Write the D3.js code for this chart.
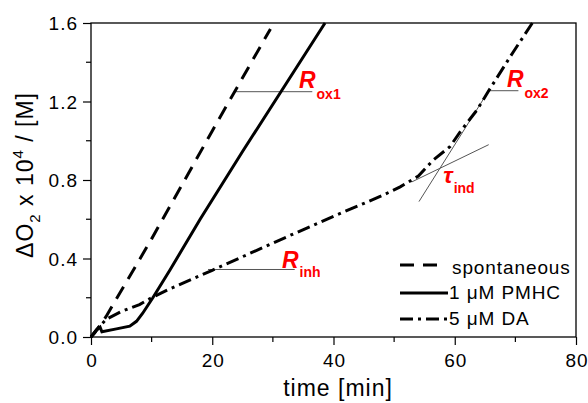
<!DOCTYPE html>
<html><head><meta charset="utf-8">
<script src="https://cdn.jsdelivr.net/npm/d3@7"></script>
<style>body{margin:0;background:#fff}svg{display:block}text{font-family:"Liberation Sans",Arial,sans-serif}</style>
</head><body>
<svg id="c" width="588" height="403"></svg>
<script>
const xTicks=[0,20,40,60,80];
const yTicks=[0.0,0.4,0.8,1.2,1.6];
const spontaneous=[[0,0],[0.6,0.02],[1.5,0.06],[2.5,0.105],[10,0.5],[20,1.05],[29.6,1.57]];
const pmhc=[[0,0],[0.9,0.036],[1.5,0.05],[1.8,0.027],[4,0.04],[6.4,0.055],[7.5,0.08],[8.5,0.12],[10.2,0.2],[13,0.34],[18,0.6],[25.1,0.95],[38.6,1.6]];
const da=[[0,0],[1,0.04],[2.5,0.09],[5,0.13],[8,0.165],[10,0.2],[13,0.245],[20,0.34],[33,0.52],[40,0.615],[48,0.72],[51,0.765],[54,0.82],[56.4,0.9],[59.2,0.97],[61,1.05],[63.7,1.158],[65.5,1.25],[69.6,1.45],[72.8,1.6]];
const series=[{name:"spontaneous",data:spontaneous,dash:"14,9"},{name:"1 \u03bcM PMHC",data:pmhc,dash:null},{name:"5 \u03bcM DA",data:da,dash:"13,5,3,5"}];
const tangents=[
 {x1:23.8,y1:1.25,x2:36.5,y2:1.25},
 {x1:65.5,y1:1.255,x2:70.5,y2:1.255},
 {x1:19.3,y1:0.344,x2:33.6,y2:0.344},
 {x1:52.9,y1:0.79,x2:65.6,y2:0.98},
 {x1:54.1,y1:0.69,x2:65.5,y2:1.25}];
const labels=[{t:"R",s:"ox1",x:34.3,y:1.269,dy:11},{t:"R",s:"ox2",x:68.6,y:1.274,dy:11},{t:"R",s:"inh",x:31.5,y:0.352,dy:9},{t:"\u03c4",s:"ind",x:58.1,y:0.785,dy:10}];

const svg=d3.select("#c");
const L=91,R=576,T=23,B=337;
const x=d3.scaleLinear().domain([0,80]).range([L,R]);
const y=d3.scaleLinear().domain([0,1.6]).range([B,T]);
const g=svg.append("g");
const xMinor=d3.range(10,80,20), yMinor=[0.2,0.6,1.0,1.4];
g.selectAll(".xm").data(xMinor).join("line").attr("x1",d=>x(d)).attr("x2",d=>x(d)).attr("y1",B).attr("y2",B+5).attr("stroke","#000").attr("stroke-width",1.2);
g.selectAll(".ym").data(yMinor).join("line").attr("y1",d=>y(d)).attr("y2",d=>y(d)).attr("x1",L).attr("x2",L-5).attr("stroke","#000").attr("stroke-width",1.2);
const xa=g.append("g").attr("transform",`translate(0,${B})`).call(d3.axisBottom(x).tickValues(xTicks).tickFormat(d3.format("d")).tickSize(8).tickPadding(4));
const ya=g.append("g").attr("transform",`translate(${L},0)`).call(d3.axisLeft(y).tickValues(yTicks).tickFormat(d3.format(".1f")).tickSize(8).tickPadding(5));
[xa,ya].forEach(a=>{a.select(".domain").remove();a.selectAll("line").attr("stroke-width",1.2);a.selectAll("text").style("font-size","19px").style("letter-spacing","1px").attr("fill","#000").style("font-family","Liberation Sans, Arial, sans-serif");});
xa.selectAll("text").attr("y",30).attr("dy",null).attr("dx","0.5px");
ya.selectAll("text").attr("dy","0.36em");
svg.append("rect").attr("x",L).attr("y",T).attr("width",R-L).attr("height",B-T).attr("fill","none").attr("stroke","#000").attr("stroke-width",1.3);
svg.selectAll(".tg").data(tangents).join("line").attr("x1",d=>x(d.x1)).attr("y1",d=>y(d.y1)).attr("x2",d=>x(d.x2)).attr("y2",d=>y(d.y2)).attr("stroke","#555").attr("stroke-width",1);
const line=d3.line().x(d=>x(d[0])).y(d=>y(d[1]));
svg.selectAll(".s").data(series).join("path").attr("d",d=>line(d.data)).attr("fill","none").attr("stroke","#000").attr("stroke-width",3).attr("stroke-dasharray",d=>d.dash);
labels.forEach(l=>{const t=svg.append("text").attr("x",x(l.x)).attr("y",y(l.y)).attr("fill","#ff0000").style("font-weight","bold");
 t.append("tspan").text(l.t).style("font-style","italic").style("font-size","23px");
 t.append("tspan").text(l.s).attr("dy",l.dy).attr("dx",1).style("font-size","14px");});
const lg=svg.append("g");
const lgX2=[441,448,447], lgTx=[452,449,449], lgLy=[265,293,319], lgTy=[274,299,325];
series.forEach((s,i)=>{
 lg.append("line").attr("x1",400).attr("x2",lgX2[i]).attr("y1",lgLy[i]).attr("y2",lgLy[i]).attr("stroke","#000").attr("stroke-width",3).attr("stroke-dasharray",s.dash);
 lg.append("text").attr("x",lgTx[i]).attr("y",lgTy[i]).text(s.name).style("font-size","19px").style("letter-spacing","0.9px");});
svg.append("text").attr("x",338).attr("y",396).attr("text-anchor","middle").style("font-size","23px").style("letter-spacing","1px").text("time [min]");
const yt=svg.append("text").attr("transform","translate(33,175) rotate(-90)").attr("text-anchor","middle").style("font-size","23px").style("letter-spacing","1px");
yt.append("tspan").text("\u0394O");
yt.append("tspan").text("2").attr("dy",7).style("font-size","15px");
yt.append("tspan").text(" x 10").attr("dy",-7);
yt.append("tspan").text("4").attr("dy",-10).style("font-size","15px");
yt.append("tspan").text(" / [M]").attr("dy",10);
</script>
</body></html>
